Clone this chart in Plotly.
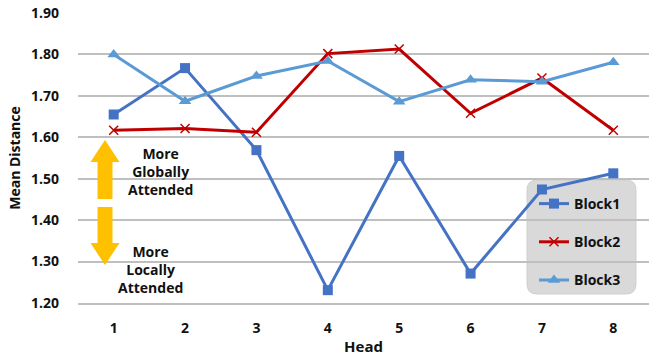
import plotly.graph_objects as go

heads = [1, 2, 3, 4, 5, 6, 7, 8]
block1 = [1.655, 1.767, 1.569, 1.231, 1.555, 1.271, 1.474, 1.513]
block2 = [1.617, 1.621, 1.612, 1.802, 1.813, 1.658, 1.743, 1.617]
block3 = [1.800, 1.687, 1.748, 1.784, 1.686, 1.739, 1.734, 1.781]
yticks = [1.2, 1.3, 1.4, 1.5, 1.6, 1.7, 1.8, 1.9]

FONT = "Open Sans"
fig = go.Figure()
fig.add_trace(go.Scatter(x=heads, y=block1, name="Block1", mode="lines+markers", legendgroup="b1",
                         line=dict(color="#4472C4", width=3),
                         marker=dict(symbol="square", size=10, color="#4472C4")))
fig.add_trace(go.Scatter(x=heads, y=block2, name="Block2", mode="lines+markers", legendgroup="b2",
                         line=dict(color="#C00000", width=3),
                         marker=dict(symbol="x-thin", size=9, line=dict(color="#C00000", width=1.5))))
fig.add_trace(go.Scatter(x=heads, y=block3, name="Block3", mode="lines+markers", legendgroup="b3",
                         line=dict(color="#5B9BD5", width=3),
                         marker=dict(symbol="triangle-up", size=11, color="#5B9BD5")))

L, R, T, B = 78, 0, 13, 61
W, H = 649, 364
pw, ph = W - L - R, H - T - B

def px(x):
    return (x - L) / pw

def py(y):
    return (H - B - y) / ph

def arrow_up(cx, ytop, ybot, sw=7.5, hw=14.5, hh=22):
    pts = [(cx, ytop), (cx + hw, ytop + hh), (cx + sw, ytop + hh), (cx + sw, ybot),
           (cx - sw, ybot), (cx - sw, ytop + hh), (cx - hw, ytop + hh)]
    return "M " + " L ".join(f"{px(a):.5f},{py(b):.5f}" for a, b in pts) + " Z"

def arrow_down(cx, ytop, ybot, sw=7.5, hw=14.5, hh=22):
    pts = [(cx, ybot), (cx + hw, ybot - hh), (cx + sw, ybot - hh), (cx + sw, ytop),
           (cx - sw, ytop), (cx - sw, ybot - hh), (cx - hw, ybot - hh)]
    return "M " + " L ".join(f"{px(a):.5f},{py(b):.5f}" for a, b in pts) + " Z"

def rounded_rect(x0, y0, x1, y1, r):
    segs = [
        f"M {px(x0 + r):.5f},{py(y0):.5f}",
        f"L {px(x1 - r):.5f},{py(y0):.5f}",
        f"Q {px(x1):.5f},{py(y0):.5f} {px(x1):.5f},{py(y0 + r):.5f}",
        f"L {px(x1):.5f},{py(y1 - r):.5f}",
        f"Q {px(x1):.5f},{py(y1):.5f} {px(x1 - r):.5f},{py(y1):.5f}",
        f"L {px(x0 + r):.5f},{py(y1):.5f}",
        f"Q {px(x0):.5f},{py(y1):.5f} {px(x0):.5f},{py(y1 - r):.5f}",
        f"L {px(x0):.5f},{py(y0 + r):.5f}",
        f"Q {px(x0):.5f},{py(y0):.5f} {px(x0 + r):.5f},{py(y0):.5f}",
        "Z",
    ]
    return " ".join(segs)

shapes = [
    dict(type="path", xref="paper", yref="paper", path=arrow_up(105, 140, 199),
         fillcolor="#FFC000", line=dict(width=0), layer="above"),
    dict(type="path", xref="paper", yref="paper", path=arrow_down(105, 207, 265),
         fillcolor="#FFC000", line=dict(width=0), layer="above"),
    dict(type="path", xref="paper", yref="paper", path=rounded_rect(527, 180, 636, 294, 10),
         fillcolor="#D9D9D9", line=dict(color="#D0D0D0", width=1), layer="below"),
]

annotations = [
    dict(xref="paper", yref="paper", x=px(160), y=py(171), text="More<br>Globally<br>Attended",
         showarrow=False, font=dict(family=FONT, size=14, color="#111111", weight="bold"),
         align="center", xanchor="center", yanchor="middle"),
    dict(xref="paper", yref="paper", x=px(150), y=py(269), text="More<br>Locally<br>Attended",
         showarrow=False, font=dict(family=FONT, size=14, color="#111111", weight="bold"),
         align="center", xanchor="center", yanchor="middle"),
]

fig.update_layout(
    width=W, height=H,
    margin=dict(l=L, r=R, t=T, b=B),
    paper_bgcolor="white", plot_bgcolor="white",
    font=dict(family=FONT, color="#111111"),
    showlegend=True,
    legend=dict(x=px(534), y=py(188), xanchor="left", yanchor="top",
                bgcolor="rgba(0,0,0,0)", borderwidth=0,
                font=dict(family=FONT, size=14, color="#111111", weight="bold"),
                tracegroupgap=17, itemwidth=30),
    shapes=shapes,
    annotations=annotations,
    xaxis=dict(range=[0.5, 8.5], tickvals=heads, ticktext=[str(h) for h in heads],
               showgrid=False, zeroline=False, showline=True, linecolor="#BFBFBF", linewidth=1.5,
               ticks="", ticklabelstandoff=11,
               tickfont=dict(family=FONT, size=14, color="#111111", weight="bold"),
               title=dict(text="Head", standoff=6,
                          font=dict(family=FONT, size=15, color="#111111", weight="bold"))),
    yaxis=dict(range=[1.2, 1.9], tickvals=yticks, ticktext=[f"{v:.2f}" for v in yticks],
               showgrid=True, gridcolor="#BFBFBF", gridwidth=1.5, zeroline=False,
               showline=False, ticks="", ticklabelstandoff=18,
               tickfont=dict(family=FONT, size=14, color="#111111", weight="bold"),
               title=dict(text="Mean Distance", standoff=7,
                          font=dict(family=FONT, size=14, color="#111111", weight="bold"))),
)

fig.write_html("out.html", config={"displayModeBar": False},
               post_script="document.body.style.margin='0';document.body.style.padding='0';")
